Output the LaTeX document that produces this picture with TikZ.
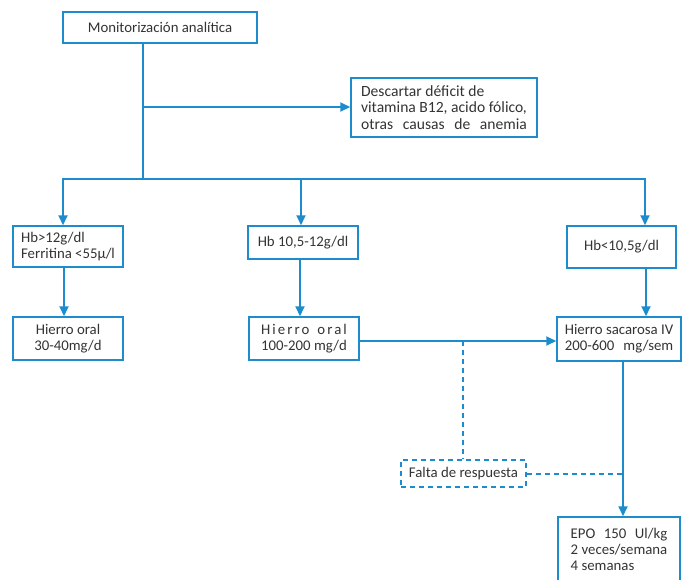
\documentclass[tikz,border=0pt]{standalone}
\usepackage{fontspec}
\setmainfont{Carlito}
\usepackage{calc}
\usetikzlibrary{arrows.meta}
\definecolor{fblue}{RGB}{28,140,204}
\definecolor{ftext}{RGB}{51,51,51}
\newcommand{\trk}[1]{{\addfontfeature{LetterSpace=14}#1}}
\begin{document}
\begin{tikzpicture}[x=1pt,y=-1pt,
  box/.style={draw=fblue,line width=1.5pt,text=ftext,inner sep=0pt,align=center,font=\fontsize{14.8}{16}\selectfont},
  conn/.style={draw=fblue,line width=1.8pt},
  arr/.style={conn,-{Triangle[length=10pt,width=9pt]}},
  dashedconn/.style={draw=fblue,line width=1.6pt,dash pattern=on 5pt off 4pt},
]
\useasboundingbox (0,0) rectangle (686,579);
\clip (0,0) rectangle (686,579);

\node[box,minimum width=194,minimum height=31] (mon) at (160,27.5) {Monitorización analítica};
\node[box,minimum width=186,minimum height=59,align=left,font=\fontsize{15.6}{16.5}\selectfont] (desc) at (444,107.5)
  {Descartar déficit de\\vitamina B12, acido fólico,\\\makebox[\widthof{vitamina B12, acido fólico,}][s]{otras causas de anemia}};
\node[box,minimum width=110,minimum height=41,align=left] (b1) at (68,246.5) {Hb>12g/dl\\Ferritina <55µ/l};
\node[box,minimum width=110,minimum height=33] (b2) at (303,242.5) {Hb 10,5-12g/dl};
\node[box,minimum width=109,minimum height=42] (b3) at (621.5,247) {Hb<10,5g/dl};
\node[box,minimum width=110,minimum height=43] (c1) at (68,338.5) {Hierro oral\\30-40mg/d};
\node[box,minimum width=110,minimum height=43,align=left] (c2) at (304,338.5)
  {\makebox[\widthof{100-200 mg/d}][s]{\trk{Hierro}\hfill\trk{oral}}\\100-200 mg/d};
\node[box,minimum width=124,minimum height=44,align=left] (c3) at (619,339)
  {Hierro sacarosa IV\\\makebox[\widthof{Hierro sacarosa IV}][s]{200-600 mg/sem}};
\node[box,dash pattern=on 5pt off 4pt,minimum width=125,minimum height=27] (falta) at (463.5,473.5) {Falta de respuesta};
\node[box,minimum width=122,minimum height=65,align=left] (epo) at (619,549.5)
  {\makebox[\widthof{2 veces/semana}][s]{EPO 150 Ul/kg}\\2 veces/semana\\4 semanas};

\coordinate (j0) at (143,179);
\draw[conn] (mon.south -| j0) -- (j0);
\coordinate (jd) at (143,107);
\draw[arr] (jd) -- (jd -| desc.west);
\coordinate (hl) at (63,179);
\coordinate (hm) at (301,179);
\coordinate (hr) at (645,179);
\draw[conn,line cap=rect] (hl) -- (hr);
\draw[arr] (hl) -- (hl |- b1.north);
\draw[arr] (hm) -- (hm |- b2.north);
\draw[arr] (hr) -- (hr |- b3.north);
\coordinate (x1) at (64,0);
\draw[arr] (b1.south -| x1) -- (c1.north -| x1);
\coordinate (x2) at (300,0);
\draw[arr] (b2.south -| x2) -- (c2.north -| x2);
\coordinate (x3) at (646,0);
\draw[arr] (b3.south -| x3) -- (c3.north -| x3);
\coordinate (y4) at (0,341);
\draw[arr] (c2.east |- y4) -- (c3.west |- y4);
\coordinate (x5) at (623,0);
\draw[arr] (c3.south -| x5) -- (epo.north -| x5);
\coordinate (jf) at (463,341);
\draw[dashedconn] (jf) -- (falta.north -| jf);
\coordinate (yf) at (0,474);
\draw[dashedconn] (falta.east |- yf) -- (x5 |- yf);
\end{tikzpicture}
\end{document}
